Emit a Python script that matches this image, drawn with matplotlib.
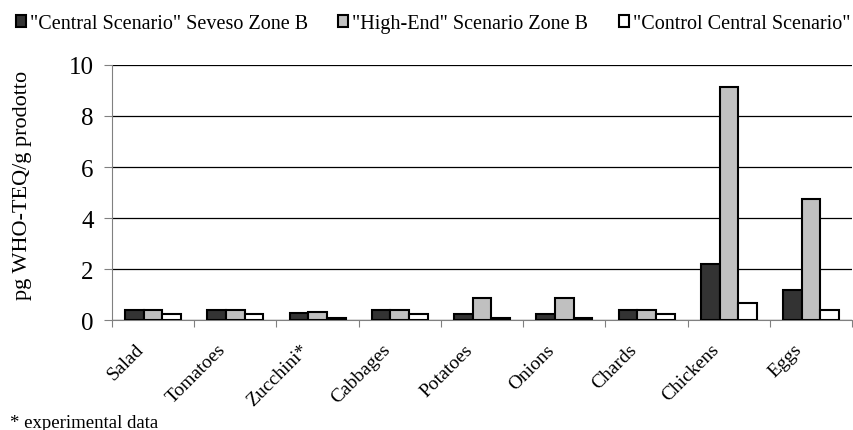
import numpy as np
import matplotlib.pyplot as plt
from matplotlib.transforms import ScaledTranslation

plt.rcParams['font.family'] = ['Liberation Serif', 'DejaVu Serif']

categories = ['Salad', 'Tomatoes', 'Zucchini*', 'Cabbages', 'Potatoes',
              'Onions', 'Chards', 'Chickens', 'Eggs']
central = [0.4, 0.4, 0.27, 0.4, 0.22, 0.22, 0.4, 2.2, 1.17]
high_end = [0.4, 0.4, 0.33, 0.4, 0.85, 0.85, 0.4, 9.15, 4.75]
control = [0.22, 0.22, 0.1, 0.22, 0.08, 0.08, 0.22, 0.68, 0.38]
series_names = ['"Central Scenario" Seveso Zone B',
                '"High-End" Scenario Zone B',
                '"Control Central Scenario"']

fig = plt.figure(figsize=(8.54, 4.31), dpi=100)
ax = fig.add_axes([0.131, 0.255, 0.867, 0.592])

x = np.arange(len(categories))
w = 0.227
colors = ['#333333', '#c0c0c0', 'white']
for i, (vals, col, name) in enumerate(zip([central, high_end, control], colors, series_names)):
    ax.bar(x + (i - 1) * w, vals, w, color=col, edgecolor='black',
           linewidth=1.5, label=name, zorder=3)

ax.set_xlim(-0.5, len(categories) - 0.5)
ax.set_ylim(0, 10)
ax.set_yticks([0, 2, 4, 6, 8, 10])
ax.yaxis.grid(True, color='black', linewidth=0.9, zorder=0)
ax.tick_params(axis='y', labelsize=18, direction='out', length=6, color='gray', pad=7)

ax.set_xticks(np.arange(len(categories) + 1) - 0.5)
ax.set_xticklabels([])
ax.set_xticks(x, minor=True)
ax.set_xticklabels(categories, minor=True, rotation=45, ha='right', va='center',
                   rotation_mode='anchor', fontsize=14)
ax.tick_params(axis='x', which='major', direction='out', length=5, color='gray')
ax.tick_params(axis='x', which='minor', length=0, pad=19)
shift = ScaledTranslation(-12 / 100, 0, fig.dpi_scale_trans)
for lab in ax.get_xticklabels(minor=True):
    lab.set_transform(lab.get_transform() + shift)

for s in ['top', 'right']:
    ax.spines[s].set_visible(False)
ax.spines['left'].set_color('gray')
ax.spines['bottom'].set_color('gray')

ax.set_ylabel('pg WHO-TEQ/g prodotto', fontsize=16)
ax.yaxis.set_label_coords(-0.108, 0.53)

fig.legend(loc='upper center', bbox_to_anchor=(0.507, 1.0), ncol=3, frameon=False,
           fontsize=14.5, handlelength=0.5, handleheight=0.5, handletextpad=0.2,
           columnspacing=1.5, borderaxespad=0.35)

fig.text(10 / 854, 3 / 431, '* experimental data', fontsize=13.5, va='baseline')

plt.savefig('out.png', dpi=100)
